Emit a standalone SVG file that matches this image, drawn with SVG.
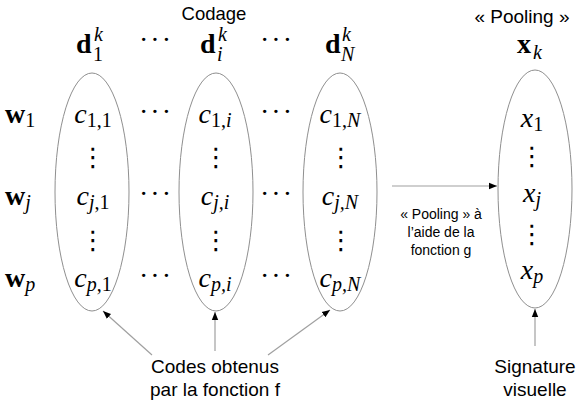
<svg xmlns="http://www.w3.org/2000/svg" width="581" height="403" viewBox="0 0 581 403">
<defs>
<marker id="ah" markerUnits="userSpaceOnUse" markerWidth="8" markerHeight="8" viewBox="0 0 8 8" refX="8" refY="4" orient="auto">
<path d="M0,0.8 L8,4 L0,7.2 Z" fill="#000"/>
</marker>
<style>
.m{font-family:"Liberation Serif","DejaVu Serif",serif;font-size:28px;fill:#000}
.i{font-style:italic}
.b{font-weight:bold}
.s{font-size:20px}
.d{font-family:"Liberation Serif",serif;font-size:28px;letter-spacing:2px;fill:#000}
.v{font-family:"DejaVu Sans",sans-serif;font-size:26px;fill:#000}
.t{font-family:"Liberation Sans",Arial,sans-serif;fill:#000}
.e{fill:none;stroke:#8f8f8f;stroke-width:1}
.c{fill:none;stroke:#a0a0a0;stroke-width:1.2;marker-end:url(#ah)}
</style>
</defs>
<rect width="581" height="403" fill="#fff"/>

<g id="titles">
<text class="t" x="214" y="20" font-size="18.5" text-anchor="middle">Codage</text>
<text class="t" x="522" y="23" font-size="19" text-anchor="middle">« Pooling »</text>
</g>

<g id="headers">
<text class="m b" x="76" y="53">d</text><text class="m s" x="93" y="61">1</text><text class="m s i" x="94" y="41">k</text>
<text class="d" x="156" y="49" text-anchor="middle">···</text>
<text class="m b" x="200" y="53">d</text><text class="m s i" x="217" y="61">i</text><text class="m s i" x="218" y="41">k</text>
<text class="d" x="277" y="49" text-anchor="middle">···</text>
<text class="m b" x="325" y="53">d</text><text class="m s i" x="341" y="61">N</text><text class="m s i" x="342" y="41">k</text>
<text class="m b" x="517" y="53">x</text><text class="m s i" x="533" y="59">k</text>
</g>

<g id="rowlabels">
<text class="m" x="5" y="123"><tspan class="b">w</tspan><tspan class="s" dy="4">1</tspan></text>
<text class="m" x="5" y="205"><tspan class="b">w</tspan><tspan class="s i" dy="4">j</tspan></text>
<text class="m" x="5" y="287"><tspan class="b">w</tspan><tspan class="s i" dy="4">p</tspan></text>
</g>

<g id="col1">
<ellipse class="e" cx="92" cy="192" rx="37" ry="119"/>
<text class="m" x="93" y="123" text-anchor="middle"><tspan class="i">c</tspan><tspan class="s" dy="4">1,1</tspan></text>
<text class="v" x="93" y="166" text-anchor="middle">⋮</text>
<text class="m" x="93" y="205" text-anchor="middle"><tspan class="i">c</tspan><tspan class="s" dy="4"><tspan class="i">j</tspan>,1</tspan></text>
<text class="v" x="93" y="249" text-anchor="middle">⋮</text>
<text class="m" x="93" y="287" text-anchor="middle"><tspan class="i">c</tspan><tspan class="s" dy="4"><tspan class="i">p</tspan>,1</tspan></text>
</g>

<g id="dots1">
<text class="d" x="156" y="121" text-anchor="middle">···</text>
<text class="d" x="156" y="203" text-anchor="middle">···</text>
<text class="d" x="156" y="285" text-anchor="middle">···</text>
</g>

<g id="col2">
<ellipse class="e" cx="216" cy="192" rx="37" ry="119"/>
<text class="m" x="215" y="123" text-anchor="middle"><tspan class="i">c</tspan><tspan class="s" dy="4">1,<tspan class="i">i</tspan></tspan></text>
<text class="v" x="216" y="166" text-anchor="middle">⋮</text>
<text class="m" x="215" y="205" text-anchor="middle"><tspan class="i">c</tspan><tspan class="s i" dy="4">j,i</tspan></text>
<text class="v" x="216" y="249" text-anchor="middle">⋮</text>
<text class="m" x="215" y="287" text-anchor="middle"><tspan class="i">c</tspan><tspan class="s i" dy="4">p,i</tspan></text>
</g>

<g id="dots2">
<text class="d" x="277" y="121" text-anchor="middle">···</text>
<text class="d" x="277" y="203" text-anchor="middle">···</text>
<text class="d" x="277" y="285" text-anchor="middle">···</text>
</g>

<g id="col3">
<ellipse class="e" cx="340" cy="192" rx="37" ry="119"/>
<text class="m" x="340" y="123" text-anchor="middle"><tspan class="i">c</tspan><tspan class="s" dy="4">1,<tspan class="i">N</tspan></tspan></text>
<text class="v" x="341" y="166" text-anchor="middle">⋮</text>
<text class="m" x="340" y="205" text-anchor="middle"><tspan class="i">c</tspan><tspan class="s i" dy="4">j,N</tspan></text>
<text class="v" x="341" y="249" text-anchor="middle">⋮</text>
<text class="m" x="340" y="287" text-anchor="middle"><tspan class="i">c</tspan><tspan class="s i" dy="4">p,N</tspan></text>
</g>

<g id="pooled">
<ellipse class="e" cx="535" cy="189" rx="37" ry="119"/>
<text class="m" x="532" y="127" text-anchor="middle"><tspan class="i">x</tspan><tspan class="s" dy="4">1</tspan></text>
<text class="v" x="532" y="165" text-anchor="middle">⋮</text>
<text class="m" x="532" y="202" text-anchor="middle"><tspan class="i">x</tspan><tspan class="s i" dy="4">j</tspan></text>
<text class="v" x="532" y="243" text-anchor="middle">⋮</text>
<text class="m" x="532" y="279" text-anchor="middle"><tspan class="i">x</tspan><tspan class="s i" dy="4">p</tspan></text>
</g>

<g id="poolinglabel">
<text class="t" font-size="14" text-anchor="middle"><tspan x="441" y="219">« Pooling » à</tspan><tspan x="441" y="237">l’aide de la</tspan><tspan x="441" y="255">fonction g</tspan></text>
</g>

<g id="codes">
<text class="t" font-size="19" text-anchor="middle"><tspan x="215" y="373">Codes obtenus</tspan><tspan x="215" y="396">par la fonction f</tspan></text>
</g>

<g id="signature">
<text class="t" font-size="19" text-anchor="middle"><tspan x="535" y="373">Signature</tspan><tspan x="535" y="396">visuelle</tspan></text>
</g>

<g id="connectors">
<line class="c" x1="392" y1="186" x2="497" y2="186"/>
<line class="c" x1="152" y1="355" x2="103" y2="311"/>
<line class="c" x1="215" y1="351" x2="215" y2="312"/>
<line class="c" x1="268" y1="355" x2="330" y2="310"/>
<line class="c" x1="535" y1="346" x2="535" y2="309"/>
</g>
</svg>
